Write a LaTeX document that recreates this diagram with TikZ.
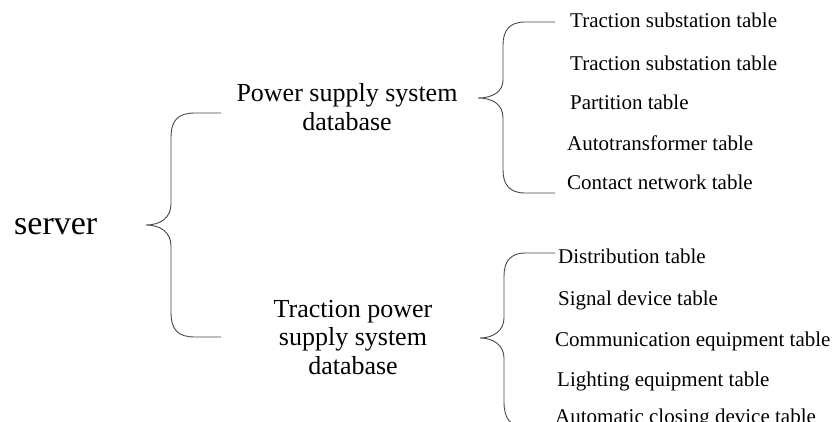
\documentclass[tikz,border=0pt]{standalone}
\usepackage{fontspec}
\setmainfont{Liberation Serif}
\begin{document}
\begin{tikzpicture}[x=1pt,y=-1pt,
  bracestyle/.style={draw=black!72,line width=0.9pt},
  tbl/.style={anchor=base west,inner sep=0pt,font=\fontsize{21}{24}\selectfont},
  db/.style={anchor=base,inner sep=0pt,align=center,font=\fontsize{26}{29}\selectfont}]
\useasboundingbox (0,0) rectangle (835,422);
\clip (0,0) rectangle (835,422);
% server
\node[anchor=base west,inner sep=0pt,font=\fontsize{34}{38}\selectfont] (server) at (14,234) {server};
% brace coordinates
\coordinate (s-tip) at (146,225);
\coordinate (s-top) at (221,113);
\coordinate (s-bot) at (221,337);
\draw[bracestyle] (s-top) -- (195,113) .. controls (178,113) and (171,120) .. (171,138) -- (171,204)
  .. controls (171,218) and (160,225) .. (s-tip)
  .. controls (160,225) and (171,232) .. (171,246) -- (171,312)
  .. controls (171,330) and (178,337) .. (195,337) -- (s-bot);
% databases
\node[db] (psdb) at (347,131) {Power supply system\\database};
\node[db,font=\fontsize{26}{28.5}\selectfont] (tpsdb) at (353,374) {Traction power\\supply system\\database};
% upper brace
\coordinate (u-tip) at (478,98);
\coordinate (u-top) at (555,22);
\coordinate (u-bot) at (555,193);
\draw[bracestyle] (u-top) -- (525,22) .. controls (510,22) and (503,30) .. (503,45) -- (503,80)
  .. controls (503,92) and (492,98) .. (u-tip)
  .. controls (492,98) and (503,104) .. (503,118) -- (503,170)
  .. controls (503,185) and (510,193) .. (525,193) -- (u-bot);
\node[tbl] (t1) at (570,28) {Traction substation table};
\node[tbl] (t2) at (570,71) {Traction substation table};
\node[tbl] (t3) at (570,110) {Partition table};
\node[tbl] (t4) at (567,150.5) {Autotransformer table};
\node[tbl] (t5) at (567,190) {Contact network table};
% lower brace
\coordinate (l-tip) at (480,338);
\coordinate (l-top) at (555,253);
\coordinate (l-bot) at (555,427);
\draw[bracestyle] (l-top) -- (525,253) .. controls (511,253) and (504,261) .. (504,276) -- (504,318)
  .. controls (504,330) and (494,338) .. (l-tip)
  .. controls (494,338) and (504,346) .. (504,358) -- (504,402)
  .. controls (504,419) and (511,427) .. (525,427) -- (l-bot);
\node[tbl] (b1) at (558,263) {Distribution table};
\node[tbl] (b2) at (558,305) {Signal device table};
\node[tbl] (b3) at (555,346.5) {Communication equipment table};
\node[tbl] (b4) at (557,386.5) {Lighting equipment table};
\node[tbl] (b5) at (555,423) {Automatic closing device table};
\end{tikzpicture}
\end{document}
